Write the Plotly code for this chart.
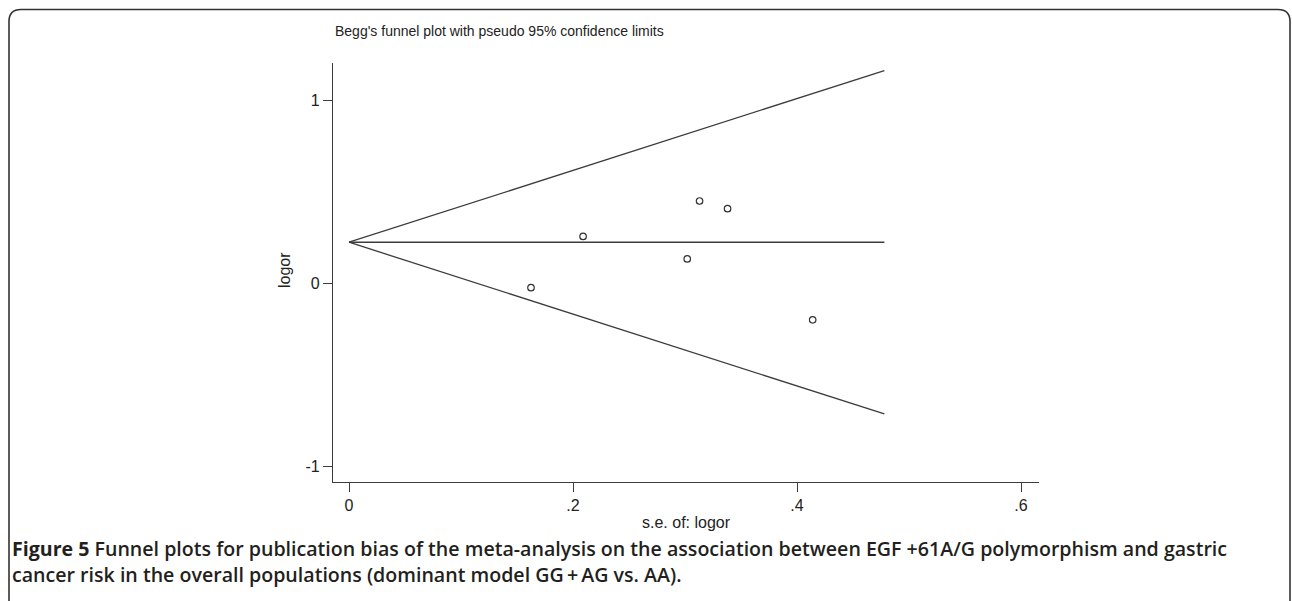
import plotly.graph_objects as go

# Study data
se_vals = [0.1625, 0.209, 0.302, 0.313, 0.338, 0.414]
logor_vals = [-0.024, 0.256, 0.133, 0.449, 0.407, -0.199]
pooled = 0.224
se_max = 0.478
z = 1.96

x_ticks = [0, 0.2, 0.4, 0.6]
x_tick_labels = ["0", ".2", ".4", ".6"]
y_ticks = [-1, 0, 1]
y_tick_labels = ["-1", "0", "1"]

title_text = "Begg's funnel plot with pseudo 95% confidence limits"
x_title = "s.e. of: logor"
y_title = "logor"
caption_l1 = "<b>Figure 5</b> Funnel plots for publication bias of the meta-analysis on the association between EGF +61A/G polymorphism and gastric"
caption_l2 = "cancer risk in the overall populations (dominant model GG\u2009+\u2009AG vs. AA)."

W, H = 1292, 601
def px(x):
    return x / W
def py(y):
    return (H - y) / H

line_col = "#3c3c3c"
fig = go.Figure()
fig.add_trace(go.Scatter(x=[0, se_max], y=[pooled, pooled + z * se_max], mode="lines",
                         line=dict(color=line_col, width=1.3), hoverinfo="skip"))
fig.add_trace(go.Scatter(x=[0, se_max], y=[pooled, pooled - z * se_max], mode="lines",
                         line=dict(color=line_col, width=1.3), hoverinfo="skip"))
fig.add_trace(go.Scatter(x=[0, se_max], y=[pooled, pooled], mode="lines",
                         line=dict(color=line_col, width=1.3), hoverinfo="skip"))
fig.add_trace(go.Scatter(x=se_vals, y=logor_vals, mode="markers",
                         marker=dict(symbol="circle-open", size=6.5, color="#333333",
                                     line=dict(width=1.2, color="#333333"))))

axis_font = dict(family="Liberation Sans, Arial, sans-serif", size=16, color="#222222")

# Border with rounded corners (pixel coordinates converted to paper)
L, T, R, B, r = 9, 9.5, 1290, 640, 12
path = (f"M {px(L)} {py(B)} L {px(L)} {py(T + r)} Q {px(L)} {py(T)} {px(L + r)} {py(T)} "
        f"L {px(R - r)} {py(T)} Q {px(R)} {py(T)} {px(R)} {py(T + r)} L {px(R)} {py(B)}")

cap_font = dict(family="Open Sans, sans-serif", size=19.6, color="#231f20", weight=600)

fig.update_layout(
    width=W, height=H,
    margin=dict(l=0, r=0, t=0, b=0),
    paper_bgcolor="white", plot_bgcolor="white",
    showlegend=False,
    xaxis=dict(domain=[px(333), px(1039)], range=[(333 - 349) / 1120, (1039 - 349) / 1120],
               tickvals=x_ticks, ticktext=x_tick_labels, ticks="outside", ticklen=9,
               tickwidth=1.2, tickcolor=line_col, showline=True, linecolor=line_col, linewidth=1.3,
               showgrid=False, zeroline=False, tickfont=axis_font, anchor="y"),
    yaxis=dict(domain=[py(482), py(63)], range=[(283.3 - 482) / 183.3, (283.3 - 63) / 183.3],
               tickvals=y_ticks, ticktext=y_tick_labels, ticks="outside", ticklen=9,
               tickwidth=1.2, tickcolor=line_col, showline=True, linecolor=line_col, linewidth=1.3,
               showgrid=False, zeroline=False, tickfont=axis_font, anchor="x"),
    shapes=[dict(type="path", path=path, xref="paper", yref="paper",
                 line=dict(color="#333333", width=1.6))],
    annotations=[
        dict(text=title_text, x=px(333), y=py(31), xref="paper", yref="paper",
             xanchor="left", yanchor="middle", showarrow=False,
             font=dict(family="Liberation Sans, Arial, sans-serif", size=14, color="#222222")),
        dict(text=x_title, x=px(686), y=py(522), xref="paper", yref="paper",
             xanchor="center", yanchor="middle", showarrow=False, font=axis_font),
        dict(text=y_title, x=px(284), y=py(270), xref="paper", yref="paper",
             xanchor="center", yanchor="middle", showarrow=False, textangle=-90, font=axis_font),
        dict(text=caption_l1, x=px(10), y=py(548), xref="paper", yref="paper",
             xanchor="left", yanchor="middle", showarrow=False, font=cap_font),
        dict(text=caption_l2, x=px(10), y=py(574), xref="paper", yref="paper",
             xanchor="left", yanchor="middle", showarrow=False, font=cap_font),
    ],
)

fig.write_html("out.html")
